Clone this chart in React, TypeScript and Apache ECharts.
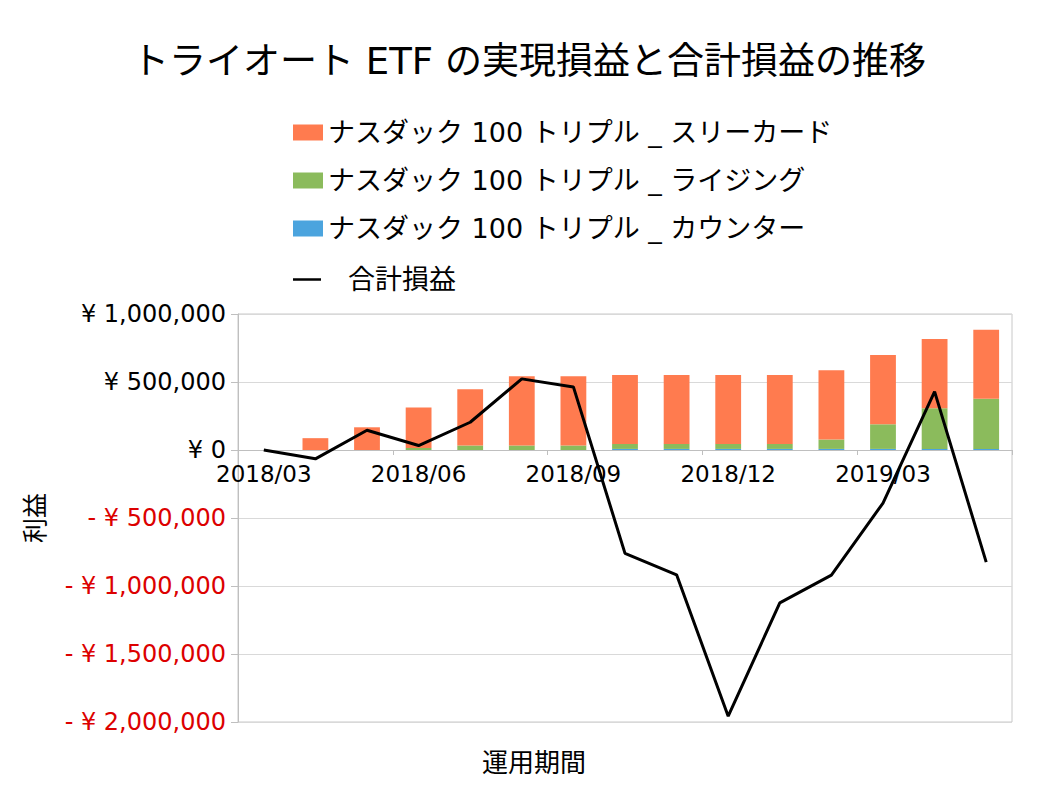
import React, { useEffect, useRef } from "react";
import * as echarts from "echarts";

const categories = [
  "2018/03", "2018/04", "2018/05", "2018/06", "2018/07", "2018/08", "2018/09", "2018/10",
  "2018/11", "2018/12", "2019/01", "2019/02", "2019/03", "2019/04", "2019/05",
];
const threeCard = [0, 87000, 167000, 297000, 413000, 509000, 509000, 507000, 507000, 507000, 507000, 509000, 510000, 509000, 509000];
const rising = [0, 0, 0, 15000, 33000, 33000, 33000, 37000, 37000, 37000, 37000, 69000, 181000, 299000, 368000];
const counter = [0, 0, 0, 0, 0, 0, 0, 8000, 8000, 8000, 8000, 8000, 8000, 8000, 8000];
const total = [0, -65000, 145000, 33000, 204000, 523000, 464000, -760000, -918000, -1957000, -1124000, -920000, -390000, 429000, -824000];

const NAME_THREE = "ナスダック 100 トリプル _ スリーカード";
const NAME_RISING = "ナスダック 100 トリプル _ ライジング";
const NAME_COUNTER = "ナスダック 100 トリプル _ カウンター";
const NAME_TOTAL = "合計損益";

const FONT = "'DejaVu Sans', 'Noto Sans CJK JP', sans-serif";

function fmtYen(v: number): string {
  const abs = Math.abs(v).toLocaleString("en-US");
  return v < 0 ? "- ¥ " + abs : "¥ " + abs;
}

export default function App() {
  const ref = useRef<HTMLDivElement>(null);
  useEffect(() => {
    if (!ref.current) return;
    const chart = echarts.init(ref.current, null, { renderer: "svg" });
    chart.setOption({
      animation: false,
      backgroundColor: "#ffffff",
      textStyle: { fontFamily: FONT },
      title: {
        text: "トライオート ETF の実現損益と合計損益の推移",
        left: "center",
        top: 38,
        textStyle: { fontFamily: FONT, fontSize: 37, fontWeight: "normal", color: "#000" },
      },
      legend: [
        {
          orient: "vertical",
          left: 288,
          top: 114,
          itemWidth: 30,
          itemHeight: 16,
          itemGap: 21,
          icon: "rect",
          data: [NAME_THREE, NAME_RISING, NAME_COUNTER],
          textStyle: { fontFamily: FONT, fontSize: 27, lineHeight: 27, color: "#000" },
        },
        {
          orient: "vertical",
          left: 288,
          top: 261,
          itemWidth: 28,
          itemHeight: 2.5,
          icon: "rect",
          data: [NAME_TOTAL],
          textStyle: { fontFamily: FONT, fontSize: 27, lineHeight: 27, color: "#000", padding: [0, 0, 0, 22] },
        },
      ],
      grid: {
        left: 238,
        right: 46,
        top: 314,
        bottom: 72,
        show: true,
        borderColor: "#c8c8c8",
        borderWidth: 1,
      },
      xAxis: {
        type: "category",
        data: categories,
        position: "bottom",
        offset: -272,
        axisLine: { onZero: false, lineStyle: { color: "#bfbfbf", width: 1 } },
        axisTick: { show: true, interval: 2, length: 5, lineStyle: { color: "#bfbfbf" } },
        axisLabel: { interval: 2, fontFamily: FONT, fontSize: 23, color: "#000", margin: 12 },
        splitLine: { show: false },
      },
      yAxis: {
        type: "value",
        min: -2000000,
        max: 1000000,
        interval: 500000,
        name: "利益",
        nameLocation: "middle",
        nameGap: 190,
        nameRotate: 90,
        nameTextStyle: { fontFamily: FONT, fontSize: 25, color: "#000" },
        axisLine: { show: true, lineStyle: { color: "#bfbfbf", width: 1 } },
        axisTick: { show: true, length: 7, inside: false, lineStyle: { color: "#bfbfbf" } },
        axisLabel: {
          fontFamily: FONT,
          fontSize: 24,
          margin: 12,
          formatter: (v: number) => fmtYen(v),
          color: (v: any) => (Number(v) < 0 ? "#dc0000" : "#000000"),
        },
        splitLine: { show: true, lineStyle: { color: "#d9d9d9", width: 1 } },
      },
      graphic: [
        {
          type: "text",
          left: 482,
          top: 750,
          style: { text: "運用期間", fontFamily: FONT, fontSize: 26, fill: "#000" },
        },
      ],
      series: [
        {
          name: NAME_COUNTER,
          type: "bar",
          stack: "pl",
          barWidth: "50%",
          data: counter,
          itemStyle: { color: "#4ba4de" },
        },
        {
          name: NAME_RISING,
          type: "bar",
          stack: "pl",
          barWidth: "50%",
          data: rising,
          itemStyle: { color: "#8bbb5c" },
        },
        {
          name: NAME_THREE,
          type: "bar",
          stack: "pl",
          barWidth: "50%",
          data: threeCard,
          itemStyle: { color: "#ff7b4f" },
        },
        {
          name: NAME_TOTAL,
          type: "line",
          data: total,
          symbol: "none",
          showSymbol: false,
          z: 10,
          lineStyle: { color: "#000", width: 3 },
          itemStyle: { color: "#000" },
        },
      ],
    });
    return () => chart.dispose();
  }, []);
  return (
    <div
      ref={ref}
      style={{ position: "absolute", left: 0, top: 0, width: 1058, height: 794 }}
    />
  );
}
